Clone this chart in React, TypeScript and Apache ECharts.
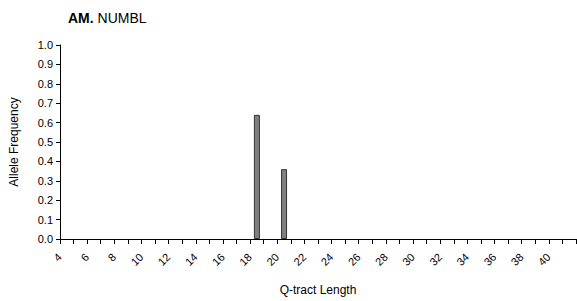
import React, { useEffect, useRef } from "react";
import * as echarts from "echarts";

const lengths: string[] = [];
for (let q = 4; q <= 41; q++) lengths.push(String(q));
const barCategories = ["18", "20"];
const barValues = [0.64, 0.36];
const yTicks = { min: 0, max: 1, interval: 0.1 };

export default function App() {
  const ref = useRef<HTMLDivElement>(null);
  useEffect(() => {
    const chart = echarts.init(ref.current!, null, { renderer: "svg" });
    const data = lengths.map((c) => {
      const i = barCategories.indexOf(c);
      return i >= 0 ? barValues[i] : null;
    });
    chart.setOption({
      animation: false,
      textStyle: { fontFamily: "Liberation Sans, Arial, sans-serif" },
      title: {
        text: "{b|AM.} NUMBL",
        left: 63,
        top: 6,
        textStyle: {
          fontSize: 14,
          fontWeight: "normal",
          color: "#000",
          fontFamily: "Liberation Sans, Arial, sans-serif",
          rich: {
            b: { fontWeight: "bold", fontSize: 14, color: "#000", fontFamily: "Liberation Sans, Arial, sans-serif" },
          },
        },
      },
      grid: { left: 60, right: 1, top: 45, bottom: 60, containLabel: false },
      xAxis: {
        type: "category",
        data: lengths,
        boundaryGap: true,
        name: "Q-tract Length",
        nameLocation: "middle",
        nameGap: 45,
        nameTextStyle: { fontSize: 12, color: "#000" },
        axisLine: { lineStyle: { color: "#000", width: 1 } },
        axisTick: { show: true, interval: 0, length: 5, lineStyle: { color: "#000" } },
        axisLabel: { interval: 1, rotate: 45, fontSize: 11, color: "#000", margin: 9, padding: [0, 10, 0, 0] },
      },
      yAxis: {
        type: "value",
        min: yTicks.min,
        max: yTicks.max,
        interval: yTicks.interval,
        name: "Allele Frequency",
        nameLocation: "middle",
        nameGap: 40,
        nameTextStyle: { fontSize: 12, color: "#000" },
        axisLine: { show: true, lineStyle: { color: "#000", width: 1 } },
        axisTick: { show: true, length: 4, lineStyle: { color: "#000" } },
        axisLabel: { fontSize: 11, color: "#000", margin: 7, formatter: (v: number) => v.toFixed(1) },
        splitLine: { show: false },
      },
      series: [
        {
          type: "bar",
          data,
          barWidth: 6,
          itemStyle: { color: "#808080", borderColor: "#333", borderWidth: 1 },
        },
      ],
    });
    return () => chart.dispose();
  }, []);
  return <div ref={ref} style={{ width: 577, height: 301, position: "absolute", left: 0, top: 0 }} />;
}
